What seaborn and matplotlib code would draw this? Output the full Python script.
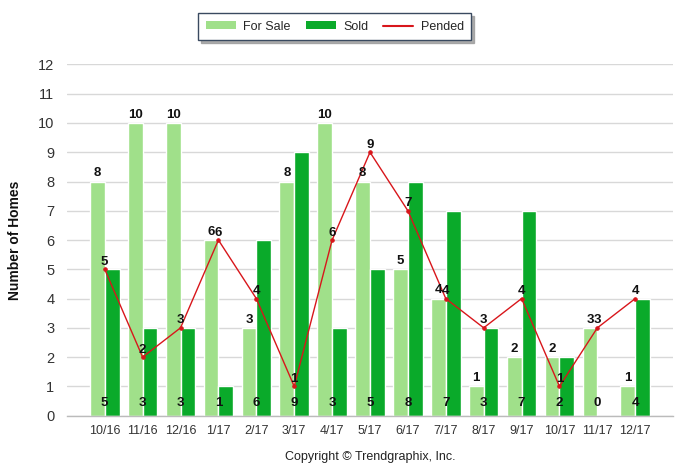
import matplotlib
matplotlib.use("Agg")
import matplotlib.pyplot as plt
from matplotlib.patches import Patch
from matplotlib.lines import Line2D
import numpy as np
import pandas as pd
import seaborn as sns

# Set data
months = ['10/16', '11/16', '12/16', '1/17', '2/17', '3/17', '4/17', '5/17',
          '6/17', '7/17', '8/17', '9/17', '10/17', '11/17', '12/17']
for_sale = [8, 10, 10, 6, 3, 8, 10, 8, 5, 4, 1, 2, 2, 3, 1]
sold = [5, 3, 3, 1, 6, 9, 3, 5, 8, 7, 3, 7, 2, 0, 4]
pended = [5, 2, 3, 6, 4, 1, 6, 9, 7, 4, 3, 4, 1, 3, 4]
y_ticks = list(range(0, 13))

c_sale = '#a0e08a'
c_sold = '#0aaa2a'
c_pend = '#d8161b'

sns.set_theme(style='white')
plt.rcParams['font.family'] = ['Liberation Sans', 'DejaVu Sans']

df = pd.DataFrame({
    'month': months * 2,
    'value': for_sale + sold,
    'kind': ['For Sale'] * len(months) + ['Sold'] * len(months),
})

fig = plt.figure(figsize=(6.89, 4.67), dpi=100)
ax = fig.add_axes([0.097, 0.110, 0.880, 0.752])

sns.barplot(data=df, x='month', y='value', hue='kind', order=months,
            palette={'For Sale': c_sale, 'Sold': c_sold}, width=0.78,
            saturation=1, edgecolor='white', linewidth=1, legend=False,
            ax=ax, zorder=2)

# Pended line drawn on the same categorical positions
sns.pointplot(x=months, y=pended, order=months, color=c_pend, markers='o',
              markersize=2.5, linewidth=1, ax=ax, zorder=4)

ax.set_xlim(-1, 15)
ax.set_ylim(0, 12)
ax.set_yticks(y_ticks)
ax.set_yticklabels([str(t) for t in y_ticks], fontsize=10.5, color='#333333')
ax.tick_params(axis='y', length=5, color='#cccccc', pad=4)
ax.tick_params(axis='x', length=0, labelsize=9, labelcolor='#333333', pad=7)
ax.set_xticks(range(len(months)))
ax.set_xticklabels(months)
ax.set_xticks([-1, 15], minor=True)
ax.tick_params(axis='x', which='minor', length=5, color='#bbbbbb')
ax.set_xlabel('')
ax.set_ylabel('')
ax.yaxis.grid(True, color='#d8d8d8', linewidth=1, zorder=0)
ax.set_axisbelow(True)
for s in ['left', 'right', 'top']:
    ax.spines[s].set_visible(False)
ax.spines['bottom'].set_color('#bbbbbb')
ax.spines['bottom'].set_linewidth(1)

# value labels
lbl = dict(fontsize=9.5, fontweight='bold', color='#111111', ha='center')
off = 0.39 / 2
for i in range(len(months)):
    ax.annotate(str(for_sale[i]), (i - off, for_sale[i]), xytext=(0, 1.5),
                textcoords='offset points', va='bottom', zorder=5, **lbl)
    ax.annotate(str(pended[i]), (i, pended[i]), xytext=(0, 1.0),
                textcoords='offset points', va='bottom', zorder=5, **lbl)
    ax.text(i, 0.42, str(sold[i]), va='center', zorder=5, **lbl)

fig.text(0.022, 0.485, 'Number of Homes', rotation=90, ha='center', va='center',
         fontsize=10, fontweight='bold', color='#111111')
fig.text(0.537, 0.021, 'Copyright \u00a9 Trendgraphix, Inc.', ha='center',
         va='center', fontsize=9, color='#222222')

handles = [Patch(facecolor=c_sale, edgecolor='none'),
           Patch(facecolor=c_sold, edgecolor='none'),
           Line2D([0], [0], color=c_pend, linewidth=1.5)]
leg = fig.legend(handles, ['For Sale', 'Sold', 'Pended'], loc='upper center',
                 bbox_to_anchor=(0.486, 0.985), ncol=3, fontsize=9,
                 frameon=True, fancybox=False,
                 shadow={'color': '#999999', 'alpha': 0.8, 'ox': 2, 'oy': -2},
                 handlelength=2.4, handleheight=0.6, columnspacing=1.2,
                 handletextpad=0.6, borderpad=0.6)
leg.get_frame().set_edgecolor('#3a4a60')
leg.get_frame().set_linewidth(1)

fig.savefig('out.png', dpi=100)
